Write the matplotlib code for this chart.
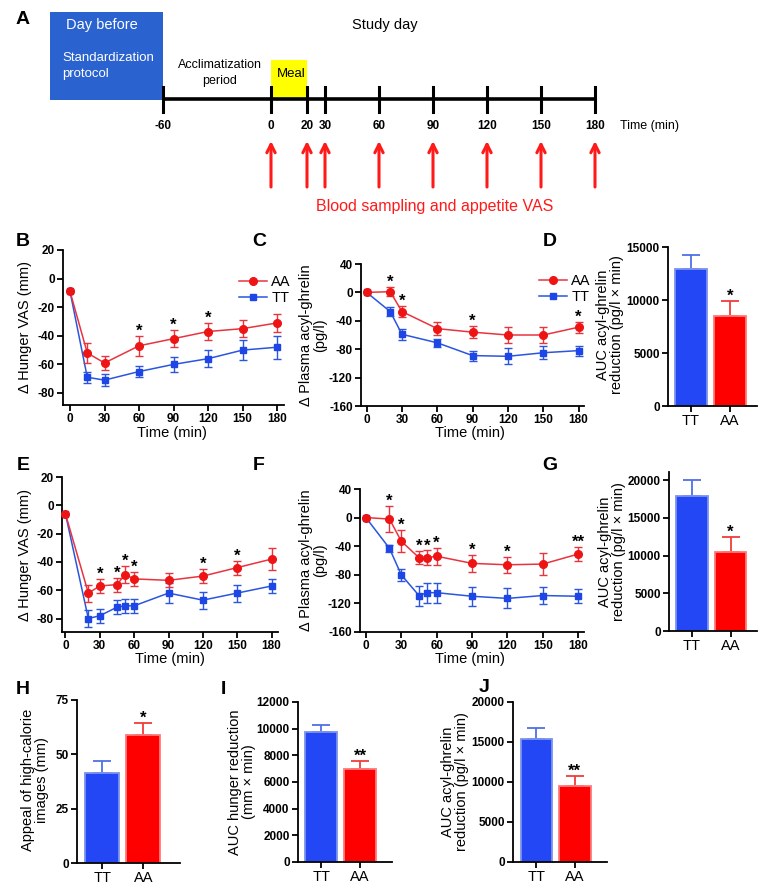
import matplotlib
matplotlib.use('Agg')
import matplotlib.pyplot as plt
from matplotlib.patches import Rectangle
from matplotlib.lines import Line2D

# ---------------- data ----------------
A_ticks = [-60, 0, 20, 30, 60, 90, 120, 150, 180]
A_sample_times = [0, 20, 30, 60, 90, 120, 150, 180]

B_time = [0, 15, 30, 60, 90, 120, 150, 180]
B_AA = [-9, -52, -59, -47, -42, -37, -35, -31]
B_AA_err = [0, 7, 5, 7, 6, 6, 6, 6]
B_TT = [-9, -69, -71, -65, -60, -56, -50, -48]
B_TT_err = [0, 4, 4, 4, 5, 6, 7, 8]
B_sig = ['', '', '', '*', '*', '*', '', '']

C_time = [0, 20, 30, 60, 90, 120, 150, 180]
C_AA = [0, 1, -27, -51, -56, -60, -60, -49]
C_AA_err = [0, 6, 8, 9, 8, 11, 11, 8]
C_TT = [0, -27, -59, -71, -89, -90, -85, -82]
C_TT_err = [0, 6, 8, 6, 7, 11, 9, 7]
C_sig = ['', '*', '*', '', '*', '', '', '*']

genotypes = ['TT', 'AA']
D_vals = [12900, 8530]
D_errs = [1350, 1410]
D_sig = ['', '*']

E_time = [0, 20, 30, 45, 52, 60, 90, 120, 150, 180]
E_AA = [-6, -62, -57, -56, -49, -52, -53, -50, -44, -38]
E_AA_err = [0, 6, 5, 5, 6, 5, 5, 5, 5, 8]
E_TT = [-6, -80, -78, -72, -71, -71, -62, -67, -62, -57]
E_TT_err = [0, 6, 5, 5, 5, 5, 7, 6, 6, 5]
E_sig = ['', '', '*', '*', '*', '*', '', '*', '*', '']

F_time = [0, 20, 30, 45, 52, 60, 90, 120, 150, 180]
F_AA = [0, -2, -33, -56, -56, -54, -64, -66, -65, -51]
F_AA_err = [0, 18, 15, 9, 10, 12, 12, 11, 15, 10]
F_TT = [0, -43, -80, -109, -105, -105, -110, -113, -109, -110]
F_TT_err = [0, 5, 8, 14, 14, 14, 13, 14, 12, 10]
F_sig = ['', '*', '*', '*', '*', '*', '*', '*', '', '**']

G_vals = [17900, 10530]
G_errs = [2100, 1980]
G_sig = ['', '*']

H_vals = [41.2, 59.1]
H_errs = [5.6, 5.5]
H_sig = ['', '*']

I_vals = [9720, 6975]
I_errs = [525, 620]
I_sig = ['', '**']

J_vals = [15410, 9540]
J_errs = [1340, 1250]
J_sig = ['', '**']

# ---------------- style ----------------
REG = 'Liberation Sans'
plt.rcParams['font.family'] = [REG, 'DejaVu Sans']
plt.rcParams['axes.unicode_minus'] = False

RED_L = '#e8343f'
RED_M = '#ee1414'
BLUE_L = '#2a55e0'
BLUE_M = '#1e46e6'
BAR_BLUE = '#2347f4'
BAR_BLUE_E = '#7d93ee'
BAR_RED = '#ff0000'
BAR_RED_E = '#ff7a7a'
ERR_BLUE = '#4f6fe6'
ERR_RED = '#f03c3c'
TICK_FS = 8.5

W, H = 766, 889
fig = plt.figure(figsize=(W / 100, H / 100), dpi=100)


def px_axes(l, t, r, b):
    return fig.add_axes([l / W, 1 - b / H, (r - l) / W, (b - t) / H])


def style_axes(ax):
    for s in ['top', 'right']:
        ax.spines[s].set_visible(False)
    for s in ['left', 'bottom']:
        ax.spines[s].set_linewidth(1.3)
    ax.tick_params(direction='out', length=4, width=1.3, pad=2)


def bold_ticks(ax, which='both', size=TICK_FS):
    labels = []
    if which in ('both', 'x'):
        labels += ax.get_xticklabels()
    if which in ('both', 'y'):
        labels += ax.get_yticklabels()
    for lb in labels:
        lb.set_fontweight('bold')
        lb.set_fontsize(size)


def line_panel(ax, t, aa, aae, tt, tte, sig, ylim, yticks, xlim, leg_anchor):
    ax.errorbar(t, tt, yerr=tte, color=BLUE_L, marker='s', ms=4.5, mfc=BLUE_M,
                mec=BLUE_M, lw=1.1, capsize=2.8, elinewidth=1.0, capthick=1.0,
                zorder=3, clip_on=False)
    ax.errorbar(t, aa, yerr=aae, color=RED_L, marker='o', ms=5.5, mfc=RED_M,
                mec=RED_M, lw=1.1, capsize=2.8, elinewidth=1.0, capthick=1.0,
                zorder=4, clip_on=False)
    for ti, a, e, s in zip(t, aa, aae, sig):
        if s:
            ax.annotate(s, (ti, a + e), xytext=(0, -2), textcoords='offset points',
                        ha='center', va='bottom', fontsize=12, fontweight='bold')
    ax.set_xlim(*xlim)
    ax.set_ylim(*ylim)
    ax.set_xticks([0, 30, 60, 90, 120, 150, 180])
    ax.set_yticks(yticks)
    style_axes(ax)
    bold_ticks(ax)
    if leg_anchor is not None:
        h_aa = Line2D([], [], color=RED_L, marker='o', ms=5.5, mfc=RED_M, mec=RED_M, lw=1.1)
        h_tt = Line2D([], [], color=BLUE_L, marker='s', ms=4.5, mfc=BLUE_M, mec=BLUE_M, lw=1.1)
        ax.legend([h_aa, h_tt], ['AA', 'TT'], frameon=False, loc='upper right',
                  bbox_to_anchor=leg_anchor, fontsize=10.5, handlelength=1.9,
                  handletextpad=0.3, labelspacing=0.15, borderaxespad=0, borderpad=0)


def bar_panel(ax, vals, errs, sig, ylim, yticks, xlim):
    x = list(range(len(genotypes)))
    ax.bar(x, vals, width=0.82, color=[BAR_BLUE, BAR_RED],
           edgecolor=[BAR_BLUE_E, BAR_RED_E], linewidth=1.3, zorder=2)
    for xi, v, e, c, s in zip(x, vals, errs, [ERR_BLUE, ERR_RED], sig):
        ax.errorbar([xi], [v], yerr=[[0], [e]], color=c, capsize=6.5,
                    elinewidth=1.3, capthick=1.3, fmt='none', zorder=1)
        if s:
            ax.annotate(s, (xi, v + e), xytext=(0, -2), textcoords='offset points',
                        ha='center', va='bottom', fontsize=12, fontweight='bold')
    ax.set_xlim(*xlim)
    ax.set_ylim(*ylim)
    ax.set_yticks(yticks)
    ax.set_xticks(x)
    ax.set_xticklabels(genotypes, fontsize=10.5)
    style_axes(ax)
    bold_ticks(ax, 'y')


# ---------------- panel A ----------------
axA = px_axes(0, 0, W, 215)
axA.set_xlim(-271 / 1.8, (W - 271) / 1.8)
axA.set_ylim(215, 0)
axA.axis('off')
axA.add_patch(Rectangle((-122.8, 12), 62.8, 88, facecolor='#2a62cf', edgecolor='none'))
axA.add_patch(Rectangle((0, 60), 20, 39, facecolor='#ffff00', edgecolor='none'))
axA.plot([A_ticks[0], A_ticks[-1]], [99, 99], color='k', lw=2.6, solid_capstyle='butt')
for tk in A_ticks:
    axA.plot([tk, tk], [87, 112], color='k', lw=2.2)
    axA.text(tk, 126, str(tk), ha='center', va='center', fontsize=8.5, fontweight='bold')
axA.text(193.9, 126, 'Time (min)', ha='left', va='center', fontsize=9)
for ts in A_sample_times:
    axA.annotate('', xy=(ts, 141), xytext=(ts, 187),
                 arrowprops=dict(arrowstyle='->', color='#ff1a1a', lw=2.2,
                                 mutation_scale=15, shrinkA=0, shrinkB=0))
axA.text(91, 206, 'Blood sampling and appetite VAS', ha='center', va='center',
         fontsize=11.5, color='#ff1a1a')
axA.text(-93.9, 25, 'Day before', ha='center', va='center', fontsize=10.5, color='white')
axA.text(-116.1, 66, 'Standardization\nprotocol', ha='left', va='center', fontsize=9.5,
         color='white', linespacing=1.35)
axA.text(63.3, 25, 'Study day', ha='center', va='center', fontsize=10.5)
axA.text(-28.3, 73, 'Acclimatization\nperiod', ha='center', va='center', fontsize=9,
         linespacing=1.35)
axA.text(11.5, 74, 'Meal', ha='center', va='center', fontsize=9.5)

# ---------------- line panels ----------------
axB = px_axes(63, 250, 284, 405)
line_panel(axB, B_time, B_AA, B_AA_err, B_TT, B_TT_err, B_sig,
           (-88.4, 20), [-80, -60, -40, -20, 0, 20], (-6.1, 186), (1.03, 0.84))
axC = px_axes(361, 264, 584, 406)
line_panel(axC, C_time, C_AA, C_AA_err, C_TT, C_TT_err, C_sig,
           (-160, 40), [-160, -120, -80, -40, 0, 40], (-4.8, 184.6), (1.03, 0.93))
axE = px_axes(62, 477, 278, 632)
line_panel(axE, E_time, E_AA, E_AA_err, E_TT, E_TT_err, E_sig,
           (-89.5, 20), [-80, -60, -40, -20, 0, 20], (-3, 185.6), None)
axF = px_axes(360, 489, 584, 632)
line_panel(axF, F_time, F_AA, F_AA_err, F_TT, F_TT_err, F_sig,
           (-160, 40), [-160, -120, -80, -40, 0, 40], (-5, 185), None)

# ---------------- bar panels ----------------
axD = px_axes(668, 247, 757, 406)
bar_panel(axD, D_vals, D_errs, D_sig, (0, 15000), [0, 5000, 10000, 15000], (-0.59, 1.69))
axG = px_axes(669, 472, 757, 631)
bar_panel(axG, G_vals, G_errs, G_sig, (0, 21100), [0, 5000, 10000, 15000, 20000], (-0.58, 1.68))
axH = px_axes(77, 700, 180, 863)
bar_panel(axH, H_vals, H_errs, H_sig, (0, 75), [0, 25, 50, 75], (-0.61, 1.89))
axI = px_axes(298, 702, 392, 862)
bar_panel(axI, I_vals, I_errs, I_sig, (0, 12000), list(range(0, 12001, 2000)), (-0.6, 1.82))
axJ = px_axes(513, 702, 607, 862)
bar_panel(axJ, J_vals, J_errs, J_sig, (0, 20000), [0, 5000, 10000, 15000, 20000], (-0.61, 1.84))


# ---------------- text labels ----------------
def ftext(x, y, s, **kw):
    fig.text(x / W, 1 - y / H, s, **kw)


ylab_kw = dict(rotation=90, ha='center', va='center', fontsize=10.5, linespacing=1.05)
ftext(25, 327, '\u0394 Hunger VAS (mm)', **ylab_kw)
ftext(313, 335, '\u0394 Plasma acyl-ghrelin\n(pg/l)', **ylab_kw)
ftext(610, 325, 'AUC acyl-ghrelin\nreduction (pg/l \u00d7 min)', **ylab_kw)
ftext(25, 555, '\u0394 Hunger VAS (mm)', **ylab_kw)
ftext(313, 560, '\u0394 Plasma acyl-ghrelin\n(pg/l)', **ylab_kw)
ftext(612, 552, 'AUC acyl-ghrelin\nreduction (pg/l \u00d7 min)', **ylab_kw)
ftext(35, 780, 'Appeal of high-calorie\nimages (mm)', **ylab_kw)
ftext(242, 782, 'AUC hunger reduction\n(mm \u00d7 min)', **ylab_kw)
ftext(455, 782, 'AUC acyl-ghrelin\nreduction (pg/l \u00d7 min)', **ylab_kw)

xlab_kw = dict(ha='center', va='center', fontsize=10.5)
ftext(172, 433, 'Time (min)', **xlab_kw)
ftext(470, 433, 'Time (min)', **xlab_kw)
ftext(170, 659, 'Time (min)', **xlab_kw)
ftext(470, 659, 'Time (min)', **xlab_kw)

letter_kw = dict(ha='center', va='center', fontsize=14, fontweight='bold')
for lt, x, y in [('A', 23, 20), ('B', 23, 241), ('C', 259, 241), ('D', 550, 241),
                 ('E', 23, 465), ('F', 259, 465), ('G', 550, 465),
                 ('H', 23, 690), ('I', 223, 690), ('J', 484, 687)]:
    ftext(x, y, lt, **letter_kw)

fig.savefig('out.png', dpi=100)
